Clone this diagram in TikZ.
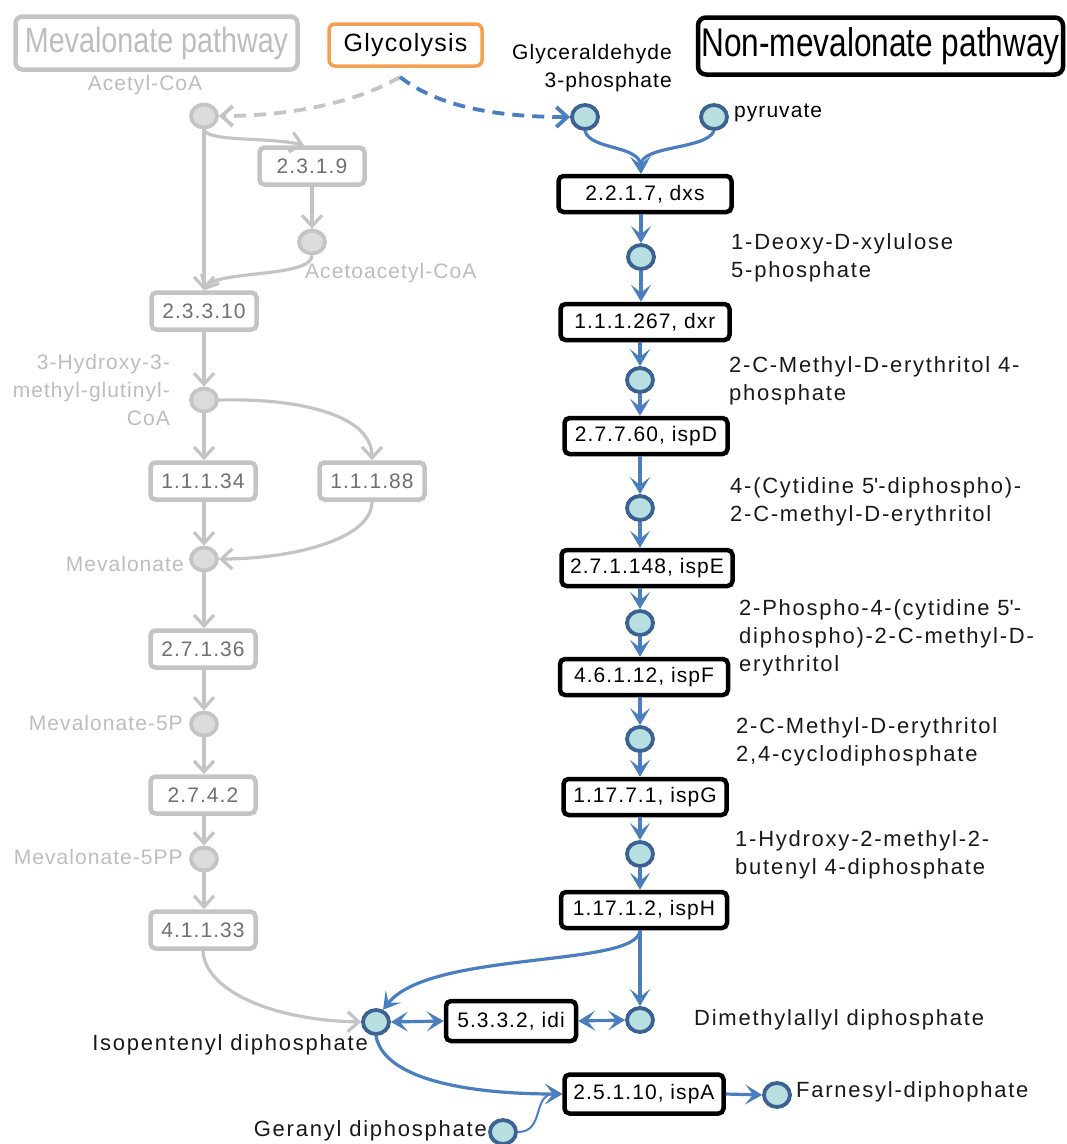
\documentclass[tikz,border=0pt]{standalone}
\usepackage{fontspec}
\setmainfont{Liberation Sans}
\newfontfamily\lab[LetterSpace=5]{Liberation Sans}
\newfontfamily\widelab[LetterSpace=8]{Liberation Sans}
\newfontfamily\narrowfont[FakeStretch=0.82]{Liberation Sans}
\newfontfamily\narrowerfont[FakeStretch=0.79]{Liberation Sans}
\usetikzlibrary{arrows.meta,shapes.geometric}

\definecolor{pblue}{HTML}{4A7EBF}
\definecolor{cborder}{HTML}{3B6293}
\definecolor{cfill}{HTML}{B8DFDF}
\definecolor{gline}{HTML}{C4C4C4}
\definecolor{gtext}{HTML}{BDBDBD}
\definecolor{gnum}{HTML}{707070}
\definecolor{gfill}{HTML}{DCDCDC}
\definecolor{glyorange}{HTML}{F4A050}

\begin{document}
\begin{tikzpicture}[x=1pt,y=-1pt,
  txt/.style={font=\lab\fontsize{21}{28}\selectfont, inner sep=0pt},
  wtxt/.style={font=\widelab\fontsize{22}{28}\selectfont, inner sep=0pt, text=black!90},
  enz/.style={draw=black, line width=4.5pt, rounded corners=5pt, fill=white,
    minimum height=36pt, inner sep=0pt, txt, text=black},
  genz/.style={draw=gline, line width=4.5pt, rounded corners=5pt, fill=white,
    minimum width=105pt, minimum height=37pt, inner sep=0pt, txt, text=gnum},
  met/.style={ellipse, draw=cborder, fill=cfill, line width=3.8pt,
    minimum width=26pt, minimum height=24pt, inner sep=0pt},
  gmet/.style={ellipse, draw=gline, fill=gfill, line width=3.8pt,
    minimum width=26pt, minimum height=23pt, inner sep=0pt},
  lbl/.style={wtxt, align=left, anchor=west},
  glbl/.style={txt, align=right, anchor=east, text=gtext},
  barr/.style={draw=pblue, line width=3.2pt, -{Stealth[length=17pt,width=20pt,inset=8pt]}},
  bdarr/.style={draw=pblue, line width=3.2pt,
    {Stealth[length=17pt,width=20pt,inset=8pt]}-{Stealth[length=17pt,width=20pt,inset=8pt]}},
  garr/.style={draw=gline, line width=3.2pt, -{Straight Barb[length=11pt,width=20pt]}},
  dsh/.style={line width=3.8pt, dash pattern=on 12pt off 8pt},
]
\useasboundingbox (0,0) rectangle (1067,1144);

% ---- headers ----
\node[draw=gline, line width=4.5pt, rounded corners=7pt, minimum width=282pt, minimum height=53pt,
  inner sep=0pt, text=gtext, font=\narrowfont\fontsize{35}{40}\selectfont]
  (mevhdr) at (156.5,43) {Mevalonate pathway};
\node[draw=glyorange, line width=3.5pt, rounded corners=6pt, minimum width=153pt, minimum height=42pt,
  inner sep=0pt, font=\lab\fontsize{25}{28}\selectfont]
  (glyc) at (405.5,45) {Glycolysis};
\node[draw=black, line width=4.5pt, rounded corners=8pt, minimum width=365pt, minimum height=57pt,
  inner sep=0pt, font=\narrowerfont\fontsize{40}{46}\selectfont]
  (nonmev) at (880.5,46) {Non-mevalonate pathway};
\coordinate (gsrc) at (400,77);

% ---- mevalonate pathway (grey) ----
\node[gmet] (accoa) at (204,116) {};
\node[genz] (e2319) at (312,166) {2.3.1.9};
\node[gmet] (acac) at (312,242) {};
\node[genz] (e23310) at (204,311) {2.3.3.10};
\node[gmet] (hmg) at (204,400) {};
\node[genz] (e11134) at (203,481) {1.1.1.34};
\node[genz] (e11188) at (372,481) {1.1.1.88};
\node[gmet] (mev) at (204,559) {};
\node[genz] (e27136) at (203,649) {2.7.1.36};
\node[gmet] (mev5p) at (204,724) {};
\node[genz] (e2742) at (203,795) {2.7.4.2};
\node[gmet] (mev5pp) at (204,859) {};
\node[genz] (e41133) at (203,930) {4.1.1.33};

\node[txt, text=gtext] (laccoa) at (145,85) {Acetyl-CoA};
\node[txt, text=gtext, anchor=west] (lacac) at (305,273) {Acetoacetyl-CoA};
\node[glbl] (lhmg) at (170,390) {3-Hydroxy-3-\\methyl-glutinyl-\\CoA};
\node[glbl] (lmev) at (184,564) {Mevalonate};
\node[glbl] (lmev5p) at (183,723) {Mevalonate-5P};
\node[glbl] (lmev5pp) at (183,857) {Mevalonate-5PP};

\draw[garr] (accoa.south) .. controls (206,142) and (270,137) .. ([xshift=-8pt]e2319.north);
\draw[garr] (accoa.south) -- (e23310.north);
\draw[garr] (e2319.south) -- (acac.north);
\draw[garr] (acac.south) .. controls (312,278) and (215,270) .. (e23310.north);
\draw[garr] (e23310.south) -- (hmg.north);
\draw[garr] (hmg.south) -- (hmg.south |- e11134.north);
\draw[garr] (hmg.east) .. controls (300,398) and (372,415) .. (e11188.north);
\draw[garr] (e11134.south -| mev) -- (mev.north);
\draw[garr] (e11188.south) .. controls (372,540) and (290,559) .. (mev.east);
\draw[garr] (mev.south) -- (mev.south |- e27136.north);
\draw[garr] (e27136.south -| mev5p) -- (mev5p.north);
\draw[garr] (mev5p.south) -- (mev5p.south |- e2742.north);
\draw[garr] (e2742.south -| mev5pp) -- (mev5pp.north);
\draw[garr] (mev5pp.south) -- (mev5pp.south |- e41133.north);

% ---- non-mevalonate pathway ----
\node[met] (g3p) at (585,117) {};
\node[met] (pyr) at (714,117) {};
\node[enz, minimum width=173pt] (dxs) at (645,194) {2.2.1.7, dxs};
\node[met] (dxp) at (641,257) {};
\node[enz, minimum width=169pt] (dxr) at (645,322) {1.1.1.267, dxr};
\node[met] (mep) at (640,380) {};
\node[enz, minimum width=163pt] (ispd) at (646,436) {2.7.7.60, ispD};
\node[met] (cdpme) at (640,508) {};
\node[enz, minimum width=171pt] (ispe) at (647,568) {2.7.1.148, ispE};
\node[met] (cdpmep) at (640,623) {};
\node[enz, minimum width=168pt] (ispf) at (644,677) {4.6.1.12, ispF};
\node[met] (mecpp) at (640,739) {};
\node[enz, minimum width=163pt] (ispg) at (645,797) {1.17.7.1, ispG};
\node[met] (hmbpp) at (640,854) {};
\node[enz, minimum width=166pt] (isph) at (644,910) {1.17.1.2, ispH};
\node[met] (ipp) at (376,1022) {};
\node[enz, minimum width=130pt, minimum height=40pt] (idi) at (511,1021) {5.3.3.2, idi};
\node[met] (dmapp) at (640,1020) {};
\node[enz, minimum width=159pt, minimum height=39pt] (ispa) at (644,1094) {2.5.1.10, ispA};
\node[met] (fpp) at (777,1095) {};
\node[met] (gpp) at (503,1132) {};

\node[txt, align=right, anchor=east] (lg3p) at (672,68) {Glyceraldehyde\\3-phosphate};
\node[txt, anchor=west] (lpyr) at (734,113) {pyruvate};
\node[lbl] (ldxp) at (731,258) {1-Deoxy-D-xylulose\\5-phosphate};
\node[lbl] (lmep) at (729,381) {2-C-Methyl-D-erythritol 4-\\phosphate};
\node[lbl] (lcdpme) at (730,502) {4-(Cytidine 5\textquotesingle-diphospho)-\\2-C-methyl-D-erythritol};
\node[lbl] (lcdpmep) at (739,638) {2-Phospho-4-(cytidine 5\textquotesingle-\\diphospho)-2-C-methyl-D-\\erythritol};
\node[lbl] (lmecpp) at (736,742) {2-C-Methyl-D-erythritol\\2,4-cyclodiphosphate};
\node[lbl] (lhmbpp) at (735,855) {1-Hydroxy-2-methyl-2-\\butenyl 4-diphosphate};
\node[lbl] (ldmapp) at (694,1020) {Dimethylallyl diphosphate};
\node[lbl] (lfpp) at (796,1092) {Farnesyl-diphophate};
\node[wtxt, anchor=east] (lipp) at (368,1045) {Isopentenyl diphosphate};
\node[wtxt, anchor=east] (lgpp) at (487,1131) {Geranyl diphosphate};

% glycolysis links
\draw[dsh, draw=gline, -{Straight Barb[length=11pt,width=20pt]}]
  (gsrc) .. controls (350,106) and (280,116) .. (accoa.east);
\draw[dsh, draw=pblue, -{Straight Barb[length=11pt,width=20pt]}]
  (gsrc) .. controls (440,108) and (500,117) .. (g3p.west);

% main chain
\draw[barr] (g3p.south) .. controls (590,150) and (640,145) .. (dxs.north -| dxp);
\draw[barr] (pyr.south) .. controls (706,150) and (640,145) .. (dxs.north -| dxp);
\draw[barr] (dxs.south -| dxp) -- (dxp.north);
\draw[barr] (dxp.south) -- (dxp.south |- dxr.north);
\draw[barr] (dxr.south -| mep) -- (mep.north);
\draw[barr] (mep.south) -- (mep.south |- ispd.north);
\draw[barr] (ispd.south -| cdpme) -- (cdpme.north);
\draw[barr] (cdpme.south) -- (cdpme.south |- ispe.north);
\draw[barr] (ispe.south -| cdpmep) -- (cdpmep.north);
\draw[barr] (cdpmep.south) -- (cdpmep.south |- ispf.north);
\draw[barr] (ispf.south -| mecpp) -- (mecpp.north);
\draw[barr] (mecpp.south) -- (mecpp.south |- ispg.north);
\draw[barr] (ispg.south -| hmbpp) -- (hmbpp.north);
\draw[barr] (hmbpp.south) -- (hmbpp.south |- isph.north);

% isoprenoid precursors
\draw[barr] (isph.south -| dmapp) -- (dmapp.north);
\draw[barr] (isph.south -| dmapp) .. controls (638,968) and (430,950) .. (ipp.60);
\draw[bdarr] (ipp.east) -- (idi.west);
\draw[bdarr] (idi.east) -- (dmapp.west);
\draw[garr] (e41133.south) .. controls (205,990) and (270,1020) .. (ipp.west);
\draw[barr] (ipp.south) .. controls (384,1080) and (470,1094) .. (ispa.west);
\draw[barr, line width=2pt] (gpp.east) .. controls (545,1132) and (532,1094) .. (ispa.west);
\draw[barr] (ispa.east) -- (fpp.west);
\end{tikzpicture}
\end{document}
